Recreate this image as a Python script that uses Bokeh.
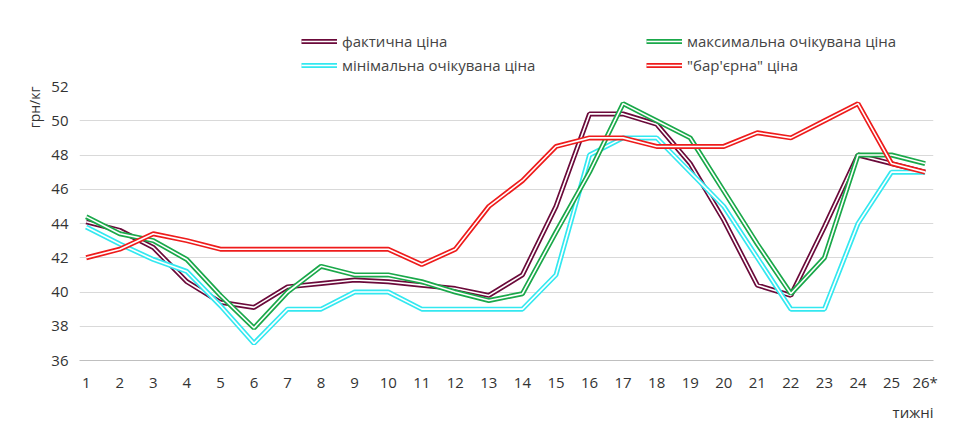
from bokeh.plotting import figure
from bokeh.models import Legend, LegendItem, Title, FixedTicker, Range1d
from bokeh.layouts import column
from bokeh.embed import file_html
from bokeh.resources import INLINE

weeks = list(range(1, 27))
tick_labels = {i: str(i) for i in weeks}
tick_labels[26] = "26*"
actual = [44.1, 43.6, 42.6, 40.6, 39.4, 39.1, 40.3, 40.5, 40.7, 40.6, 40.4, 40.2, 39.8, 41.0, 45.0, 50.4, 50.4, 49.8, 47.5, 44.2, 40.4, 39.8, 43.8, 48.0, 47.5, 47.0]
maxp = [44.4, 43.4, 43.0, 41.9, 39.8, 37.9, 40.0, 41.5, 41.0, 41.0, 40.6, 40.0, 39.5, 39.9, 43.5, 47.0, 51.0, 50.0, 49.0, 45.9, 42.8, 39.9, 42.0, 48.0, 48.0, 47.5]
minp = [43.8, 42.8, 41.9, 41.2, 39.2, 37.0, 39.0, 39.0, 40.0, 40.0, 39.0, 39.0, 39.0, 39.0, 41.0, 48.0, 49.0, 49.0, 47.0, 45.0, 42.0, 39.0, 39.0, 44.0, 47.0, 47.0]
barrier = [42.0, 42.5, 43.4, 43.0, 42.5, 42.5, 42.5, 42.5, 42.5, 42.5, 41.6, 42.5, 45.0, 46.5, 48.5, 49.0, 49.0, 48.5, 48.5, 48.5, 49.3, 49.0, 50.0, 51.0, 47.5, 47.0]
series = [("фактична ціна", actual, "#6b0a3a"),
          ("мінімальна очікувана ціна", minp, "#33e8f0"),
          ("максимальна очікувана ціна", maxp, "#1aa84a"),
          ("\"бар'єрна\" ціна", barrier, "#ee1c1c")]

top = figure(width=943, height=75, output_backend="svg", toolbar_location=None,
             x_range=Range1d(0, 1), y_range=Range1d(0, 1),
             min_border=0, x_axis_type=None, y_axis_type=None)
top.outline_line_color = None
top.grid.visible = False

p = figure(width=943, height=351, output_backend="svg", toolbar_location=None,
           x_range=Range1d(0.8, 26.25), y_range=Range1d(36, 52),
           min_border_left=79, min_border_right=10, min_border_top=11, min_border_bottom=53)
p.outline_line_color = None
p.xgrid.grid_line_color = None
p.ygrid.grid_line_color = "#d9d9d9"
p.yaxis.ticker = FixedTicker(ticks=list(range(36, 53, 2)))
p.xaxis.ticker = FixedTicker(ticks=weeks)
p.xaxis.major_label_overrides = tick_labels
for ax in (p.xaxis, p.yaxis):
    ax.major_label_text_font = "Open Sans"
    ax.major_label_text_font_size = "15px"
    ax.major_label_text_color = "#333333"
    ax.major_tick_line_color = None
    ax.minor_tick_line_color = None
p.yaxis.axis_line_color = None
p.xaxis.axis_line_color = "#bfbfbf"

items = []
for name, vals, col in series:
    p.line(weeks, vals, line_color=col, line_width=5)
    p.line(weeks, vals, line_color="white", line_width=1.6)
    r1 = top.line([5, 6], [5, 6], line_color=col, line_width=5)
    r2 = top.line([5, 6], [5, 6], line_color="white", line_width=1.6)
    items.append(LegendItem(label=name, renderers=[r1, r2]))

leg = Legend(items=items, ncols=2, location=(222, 0),
             label_text_font="Open Sans", label_text_font_size="15px",
             label_width=300, glyph_width=36, spacing=4, padding=2, margin=0,
             border_line_color=None, background_fill_alpha=0, label_height=20)
top.add_layout(leg, "center")

p.add_layout(Title(text="грн/кг", align="right", text_font="Open Sans", text_font_size="14px",
                   text_font_style="normal", text_color="#333333"), "left")
p.add_layout(Title(text="тижні", align="right", text_font="Open Sans", text_font_size="15px",
                   text_font_style="normal", text_color="#333333", offset=0), "below")

open("out.html", "w").write(file_html(column(top, p, spacing=0), INLINE))
